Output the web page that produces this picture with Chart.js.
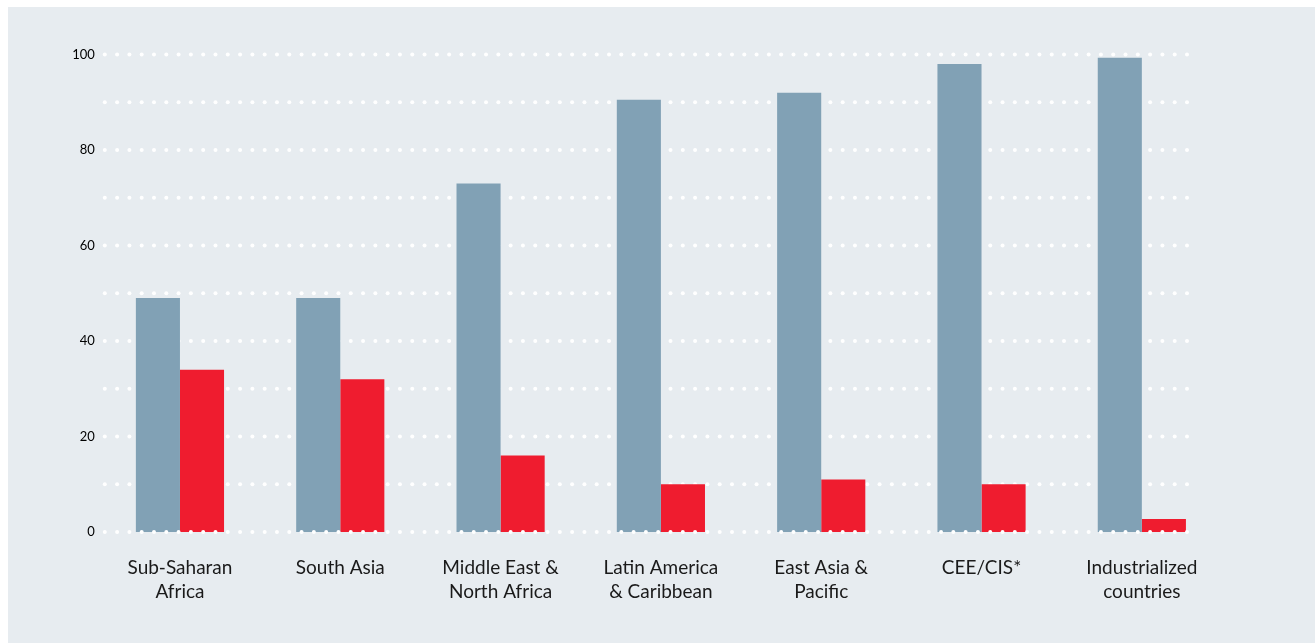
<!DOCTYPE html>
<html>
<head>
<meta charset="utf-8">
<script src="https://cdn.jsdelivr.net/npm/chart.js@4"></script>
<style>
  html, body { margin: 0; padding: 0; background: #fff; }
  #wrap { width: 1315px; height: 643px; position: relative; }
</style>
</head>
<body>
<div id="wrap"><canvas id="grafico"></canvas></div>
<script>
const regioni = [
    ['Sub-Saharan', 'Africa'],
    'South Asia',
    ['Middle East &', 'North Africa'],
    ['Latin America', '& Caribbean'],
    ['East Asia &', 'Pacific'],
    'CEE/CIS*',
    ['Industrialized', 'countries']
];
const serieGrigia = [49, 49, 73, 90.5, 92, 98, 99.3];
const serieRossa = [34, 32, 16, 10, 11, 10, 2.7];
const ticksY = [0, 20, 40, 60, 80, 100];
const righeGriglia = [0, 10, 20, 30, 40, 50, 60, 70, 80, 90, 100];

// sfondo grigio con bordo bianco in alto e a sinistra
const sfondo = {
    id: 'sfondo',
    beforeDraw(chart) {
        const ctx = chart.ctx;
        ctx.save();
        ctx.fillStyle = '#ffffff';
        ctx.fillRect(0, 0, chart.width, chart.height);
        ctx.fillStyle = '#e7ecf0';
        ctx.fillRect(8, 7, chart.width - 8, chart.height - 7);
        ctx.restore();
    }
};

// griglia a puntini bianchi
function disegnaPuntini(chart, valori) {
    const ctx = chart.ctx;
    const y = chart.scales.y;
    const x0 = chart.chartArea.left + 5;
    const x1 = 1187;
    const passo = (x1 - x0) / 88;
    ctx.save();
    ctx.fillStyle = '#ffffff';
    valori.forEach(v => {
        const py = y.getPixelForValue(v);
        for (let k = 0; k <= 88; k++) {
            ctx.beginPath();
            ctx.arc(x0 + k * passo, py, 2, 0, Math.PI * 2);
            ctx.fill();
        }
    });
    ctx.restore();
}
const griglia = {
    id: 'griglia',
    beforeDatasetsDraw(chart) {
        disegnaPuntini(chart, righeGriglia.filter(v => v > 0));
    },
    afterDatasetsDraw(chart) {
        disegnaPuntini(chart, [0]);
    }
};

new Chart(document.getElementById('grafico'), {
    type: 'bar',
    data: {
        labels: regioni,
        datasets: [
            {
                data: serieGrigia,
                backgroundColor: '#81a1b5',
                borderWidth: 0,
                categoryPercentage: 0.55,
                barPercentage: 1.0
            },
            {
                data: serieRossa,
                backgroundColor: '#ef1c2f',
                borderWidth: 0,
                categoryPercentage: 0.55,
                barPercentage: 1.0
            }
        ]
    },
    options: {
        responsive: true,
        maintainAspectRatio: false,
        animation: false,
        layout: {
            padding: { left: 0, right: 93, top: 54.5, bottom: 0 }
        },
        plugins: {
            legend: { display: false },
            tooltip: { enabled: false }
        },
        scales: {
            x: {
                grid: { display: false, drawTicks: false },
                border: { display: false },
                ticks: {
                    color: '#1a1a1a',
                    padding: 24,
                    maxRotation: 0,
                    autoSkip: false,
                    font: { family: 'Lato', size: 19, lineHeight: 1.27 }
                },
                afterFit(scale) { scale.height = 111; }
            },
            y: {
                min: 0,
                max: 100,
                grid: { display: false, drawTicks: false },
                border: { display: false },
                afterBuildTicks(scale) {
                    scale.ticks = ticksY.map(v => ({ value: v }));
                },
                ticks: {
                    color: '#000000',
                    padding: 5,
                    font: { family: 'Lato', size: 13 }
                },
                afterFit(scale) { scale.width = 99.8; }
            }
        }
    },
    plugins: [sfondo, griglia]
});
</script>
</body>
</html>
